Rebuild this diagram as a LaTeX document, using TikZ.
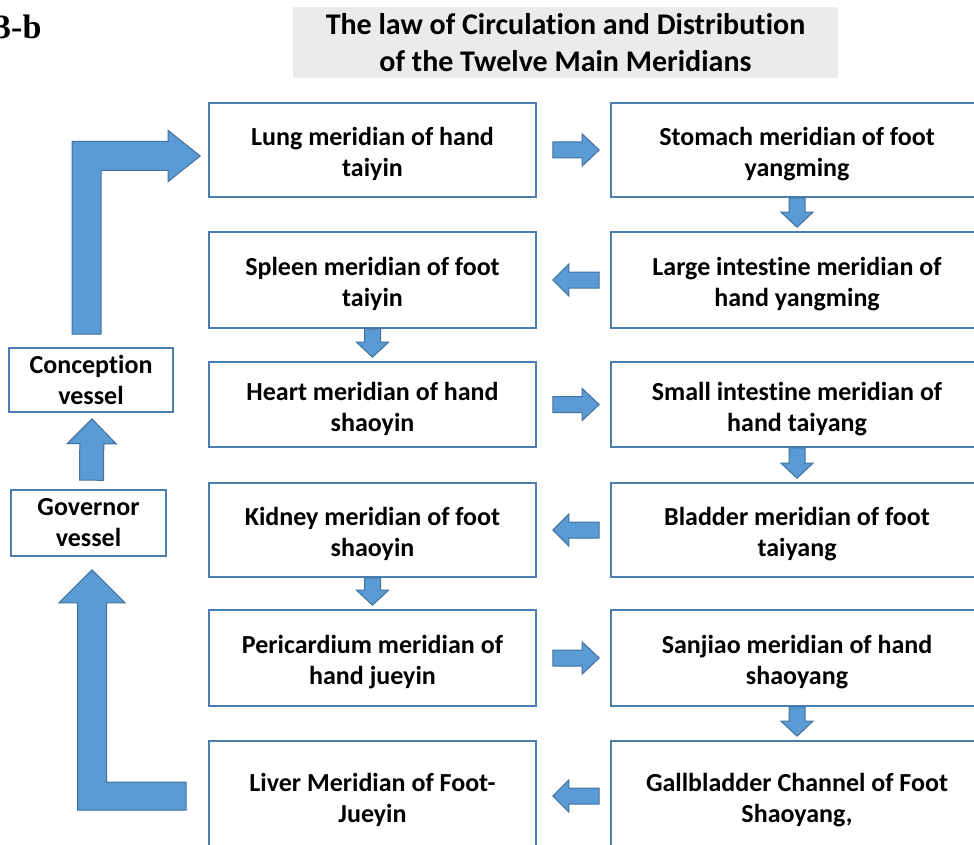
\documentclass[tikz,border=0pt]{standalone}
\usepackage{fontspec}
\setmainfont{Carlito}[Ligatures=NoCommon]
\newfontfamily\serifbold{Liberation Serif}
\usetikzlibrary{calc}

\definecolor{boxline}{HTML}{4A7DB0}
\definecolor{arrowfill}{HTML}{5B9BD5}
\definecolor{arrowline}{HTML}{41719C}

% block arrow: #1 tail, #2 tip, #3 half shaft, #4 half head, #5 head length
\newcommand{\blkarrow}[5]{%
  \coordinate (ba-c) at ($(#2)!#5!(#1)$);
  \draw[blkarrow] ($(#1)!#3!90:(#2)$) -- ($(ba-c)!#3!90:(#2)$) -- ($(ba-c)!#4!90:(#2)$) -- (#2)
    -- ($(ba-c)!#4!-90:(#2)$) -- ($(ba-c)!#3!-90:(#2)$) -- ($(#1)!#3!-90:(#2)$) -- cycle;
}

\begin{document}
\begin{tikzpicture}[x=1pt, y=-1pt,
  mbox/.style={draw=boxline, line width=1.6pt, fill=white, inner sep=0pt, align=center,
    font=\bfseries\fontsize{26}{31}\selectfont},
  lbox/.style={mbox, minimum width=327pt, execute at begin node={\rule{0pt}{58pt}}},
  rbox/.style={mbox, minimum width=372pt, execute at begin node={\rule{0pt}{58pt}}},
  blkarrow/.style={fill=arrowfill, draw=arrowline, line width=1pt, line join=miter}]
  \path[use as bounding box] (0,0) rectangle (974,845);
  \clip (0,0) rectangle (974,845);

  % heading
  \node[font=\serifbold\bfseries\fontsize{34}{40}\selectfont, anchor=base east] (fig) at (45,39) {3-b};
  \node[fill=black!8, minimum width=545pt, minimum height=71pt, inner sep=0pt, align=center,
    font=\bfseries\fontsize{30}{37}\selectfont] (title) at (565.5,42.5)
    {The law of Circulation and Distribution\\of the Twelve Main Meridians};

  % left column
  \node[lbox, minimum height=94pt] (lung) at (372.5,150) {Lung meridian of hand\\taiyin};
  \node[lbox, minimum height=96pt] (spleen) at (372.5,280) {Spleen meridian of foot\\taiyin};
  \node[lbox, minimum height=85pt] (heart) at (372.5,404.5) {Heart meridian of hand\\shaoyin};
  \node[lbox, minimum height=94pt] (kidney) at (372.5,530) {Kidney meridian of foot\\shaoyin};
  \node[lbox, minimum height=96pt] (peric) at (372.5,658) {Pericardium meridian of\\hand jueyin};
  \node[lbox, minimum height=110pt] (liver) at (372.5,796) {Liver Meridian of Foot-\\Jueyin};

  % right column
  \node[rbox, minimum height=94pt] (stomach) at (797,150) {Stomach meridian of foot\\yangming};
  \node[rbox, minimum height=96pt] (largeint) at (797,280) {Large intestine meridian of\\hand yangming};
  \node[rbox, minimum height=85pt] (smallint) at (797,404.5) {Small intestine meridian of\\hand taiyang};
  \node[rbox, minimum height=94pt] (bladder) at (797,530) {Bladder meridian of foot\\taiyang};
  \node[rbox, minimum height=96pt] (sanjiao) at (797,658) {Sanjiao meridian of hand\\shaoyang};
  \node[rbox, minimum height=110pt] (gallb) at (797,796) {Gallbladder Channel of Foot\\Shaoyang,};

  % vessels
  \node[mbox, minimum width=164pt, minimum height=64pt] (conc) at (91,380) {Conception\\vessel};
  \node[mbox, minimum width=155pt, minimum height=66pt] (gov) at (88.5,523) {Governor\\vessel};

  % across the rows
  \foreach \a/\b in {lung/stomach, heart/smallint, peric/sanjiao} {
    \path ($(\a.east)+(16,0)$) coordinate (ta) ($(\b.west)+(-11,0)$) coordinate (tb);
    \blkarrow{ta}{tb}{8pt}{16pt}{17pt}
  }
  \foreach \a/\b in {largeint/spleen, bladder/kidney, gallb/liver} {
    \path ($(\a.west)+(-11,0)$) coordinate (ta) ($(\b.east)+(16,0)$) coordinate (tb);
    \blkarrow{ta}{tb}{8pt}{16pt}{16pt}
  }
  % down the columns
  \foreach \a/\b in {stomach/largeint, smallint/bladder, sanjiao/gallb, spleen/heart, kidney/peric} {
    \path (\a.south) coordinate (ta) ($(\b.north)+(0,-4)$) coordinate (tb);
    \blkarrow{ta}{tb}{8pt}{16pt}{15pt}
  }

  % governor -> conception
  \path ($(gov.north)+(3,-9)$) coordinate (ta) ($(conc.south)+(1,6)$) coordinate (tb);
  \blkarrow{ta}{tb}{12pt}{24.5pt}{25pt}

  % conception -> lung, bent
  \coordinate (b1s) at ($(conc.north)+(-4.5,-13)$);
  \coordinate (b1e) at ($(lung.west)+(-8,6)$);
  \draw[blkarrow] ($(b1s)+(-14.5,0)$) -- ($(b1s|-b1e)+(-14.5,-14.5)$) -- ($(b1e)+(-32,-14.5)$)
    -- ($(b1e)+(-32,-25.5)$) -- (b1e) -- ($(b1e)+(-32,25.5)$) -- ($(b1e)+(-32,14.5)$)
    -- ($(b1s|-b1e)+(14.5,14.5)$) -- ($(b1s)+(14.5,0)$) -- cycle;

  % liver -> governor, bent
  \coordinate (b2s) at ($(liver.west)+(-22,0)$);
  \coordinate (b2e) at ($(gov.south)+(3.5,13)$);
  \draw[blkarrow] ($(b2s)+(0,-14)$) -- ($(b2e|-b2s)+(14.5,-14)$) -- ($(b2e)+(14.5,33)$)
    -- ($(b2e)+(33,33)$) -- (b2e) -- ($(b2e)+(-33,33)$) -- ($(b2e)+(-14.5,33)$)
    -- ($(b2e|-b2s)+(-14.5,14)$) -- ($(b2s)+(0,14)$) -- cycle;
\end{tikzpicture}
\end{document}
